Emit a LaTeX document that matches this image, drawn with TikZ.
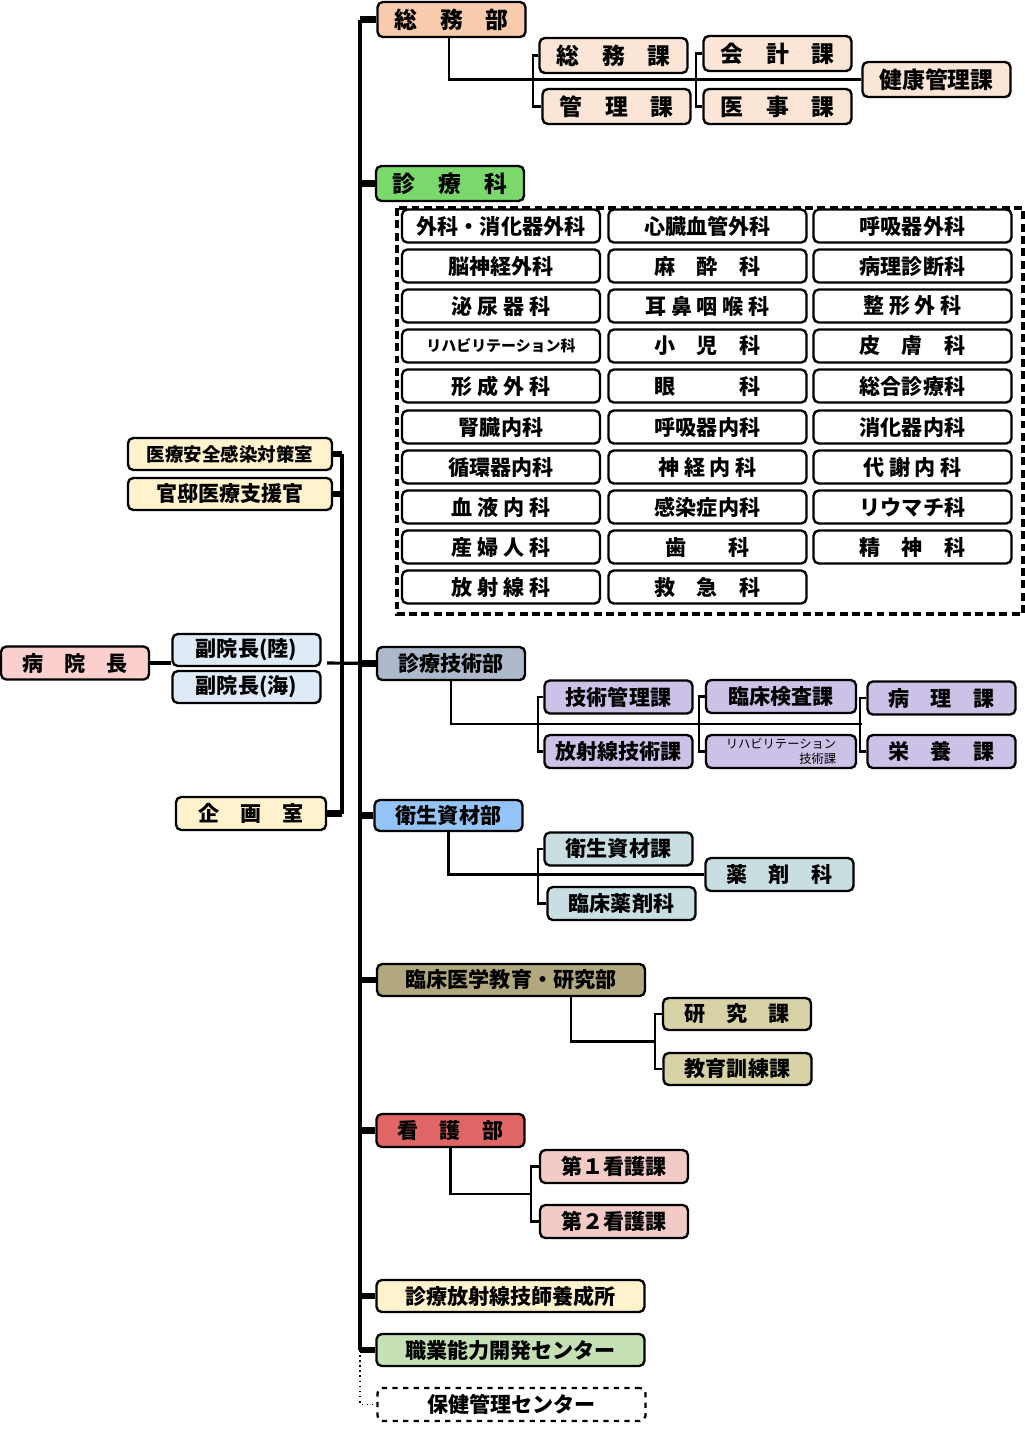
\documentclass[tikz,border=0pt]{standalone}
\usepackage{fontspec}
\setmainfont{Noto Sans CJK JP}
\usetikzlibrary{positioning,calc}

\definecolor{somuDark}{HTML}{F8CBAD}
\definecolor{somuLight}{HTML}{FBE5D6}
\definecolor{shinryoGreen}{HTML}{7AD96A}
\definecolor{headPink}{HTML}{FCCFCF}
\definecolor{fukuBlue}{HTML}{DEEBF7}
\definecolor{paleYellow}{HTML}{FFF2CC}
\definecolor{gijutsuGray}{HTML}{ADB9CA}
\definecolor{lavender}{HTML}{CCC1E6}
\definecolor{eiseiBlue}{HTML}{94C4F5}
\definecolor{paleTeal}{HTML}{C9DEE0}
\definecolor{khakiDark}{HTML}{B1A87F}
\definecolor{khakiLight}{HTML}{D7D2A6}
\definecolor{kangoRed}{HTML}{E06666}
\definecolor{palePink}{HTML}{F2CBC7}
\definecolor{paleGreen}{HTML}{C5E0B4}

\tikzset{
  box/.style={draw, line width=1.35pt, rounded corners=3pt, minimum width=2.96cm,
    minimum height=0.66cm, inner sep=0pt, font=\fontsize{12}{14}\selectfont\bfseries},
  bigbox/.style={box, font=\fontsize{13}{15}\selectfont\bfseries},
  widebox/.style={box, minimum width=5.36cm},
  kabox/.style={box, minimum width=3.96cm, fill=white},
  spine/.style={line width=1.8pt},
  tick/.style={line width=3.5pt},
  link/.style={line width=1.3pt},
}

\begin{document}
\begin{tikzpicture}[x=0.02cm,y=-0.02cm]
    \useasboundingbox (0,0) rectangle (1025,1431);

    % Hospital director and vice directors
    \node[box, fill=headPink] (inchou) at (75,663) {病　院　長};
    \node[box, fill=fukuBlue, minimum height=0.64cm] (fuku1) at (246.5,650) {副院長(陸)};
    \node[box, fill=fukuBlue, minimum height=0.64cm] (fuku2) at (246.5,687) {副院長(海)};

    % Staff offices
    \node[box, fill=paleYellow, minimum width=4.08cm, minimum height=0.64cm,
      font=\fontsize{10.5}{12}\selectfont\bfseries] (anzen) at (230,454) {医療安全感染対策室};
    \node[box, fill=paleYellow, minimum width=4.08cm, minimum height=0.64cm] (kantei) at (230,494) {官邸医療支援官};
    \node[box, fill=paleYellow, minimum width=3cm] (kikaku) at (251,813.5) {企　画　室};

    % General affairs
    \node[bigbox, fill=somuDark, minimum height=0.7cm] (somubu) at (451.5,19.5) {総　務　部};
    \node[bigbox, fill=somuLight, minimum height=0.7cm] (somuka) at (613.5,55.5) {総　務　課};
    \node[bigbox, fill=somuLight, minimum height=0.7cm] (kanri) at (616.5,106.5) {管　理　課};
    \node[bigbox, fill=somuLight, minimum height=0.7cm] (kaikei) at (777.5,53.5) {会　計　課};
    \node[bigbox, fill=somuLight, minimum height=0.7cm] (iji) at (777.5,106.5) {医　事　課};
    \node[bigbox, fill=somuLight, minimum height=0.7cm] (kenko) at (936.5,79.5) {健康管理課};

    % Clinical departments
    \node[bigbox, fill=shinryoGreen, minimum height=0.7cm] (shinryo) at (450,183.5) {診　療　科};
    \draw[line width=1.9pt, dash pattern=on 4.5pt off 2.5pt] (397,208) rectangle (1023,614);

    \node[kabox] (k11) at (501,226) {外科・消化器外科};
    \node[kabox] (k12) at (707.5,226) {心臓血管外科};
    \node[kabox] (k13) at (912.5,226) {呼吸器外科};

    \node[kabox] (k21) at (501,266) {脳神経外科};
    \node[kabox] (k22) at (707.5,266) {麻　酔　科};
    \node[kabox] (k23) at (912.5,266) {病理診断科};

    \node[kabox] (k31) at (501,306) {泌 尿 器 科};
    \node[kabox] (k32) at (707.5,306) {耳 鼻 咽 喉 科};
    \node[kabox] (k33) at (912.5,306) {整 形 外 科};

    \node[kabox, font=\fontsize{8.5}{10}\selectfont\bfseries] (k41) at (501,346) {リハビリテーション科};
    \node[kabox] (k42) at (707.5,346) {小　児　科};
    \node[kabox] (k43) at (912.5,346) {皮　膚　科};

    \node[kabox] (k51) at (501,386) {形 成 外 科};
    \node[kabox] (k52) at (707.5,386) {眼　　　科};
    \node[kabox] (k53) at (912.5,386) {総合診療科};

    \node[kabox] (k61) at (501,427) {腎臓内科};
    \node[kabox] (k62) at (707.5,427) {呼吸器内科};
    \node[kabox] (k63) at (912.5,427) {消化器内科};

    \node[kabox] (k71) at (501,467) {循環器内科};
    \node[kabox] (k72) at (707.5,467) {神 経 内 科};
    \node[kabox] (k73) at (912.5,467) {代 謝 内 科};

    \node[kabox] (k81) at (501,507) {血 液 内 科};
    \node[kabox] (k82) at (707.5,507) {感染症内科};
    \node[kabox] (k83) at (912.5,507) {リウマチ科};

    \node[kabox] (k91) at (501,547) {産 婦 人 科};
    \node[kabox] (k92) at (707.5,547) {歯　　科};
    \node[kabox] (k93) at (912.5,547) {精　神　科};

    \node[kabox] (k101) at (501,587) {放 射 線 科};
    \node[kabox] (k102) at (707.5,587) {救　急　科};

    % Medical technology
    \node[box, fill=gijutsuGray] (gijutsubu) at (451,663.5) {診療技術部};
    \node[box, fill=lavender] (gikan) at (618.5,697) {技術管理課};
    \node[box, fill=lavender] (hoshagi) at (618.5,751.5) {放射線技術課};
    \node[box, fill=lavender, minimum width=3cm] (rinken) at (781,696.5) {臨床検査課};
    \node[box, fill=lavender, minimum width=3cm, align=right,
      font=\fontsize{7}{8.5}\selectfont] (riha) at (781,751.5) {リハビリテーション\\技術課};
    \node[box, fill=lavender] (byori) at (941.5,698) {病　理　課};
    \node[box, fill=lavender] (eiyo) at (941.5,751.5) {栄　養　課};

    % Medical supplies
    \node[box, fill=eiseiBlue, minimum height=0.62cm] (eiseibu) at (448.5,815.5) {衛生資材部};
    \node[box, fill=paleTeal] (eiseika) at (618.5,849) {衛生資材課};
    \node[box, fill=paleTeal] (rinyaku) at (621.5,903.5) {臨床薬剤科};
    \node[box, fill=paleTeal] (yakuzai) at (779.5,874.5) {薬　剤　科};

    % Education and research
    \node[widebox, fill=khakiDark, minimum height=0.64cm] (rinshobu) at (511,980) {臨床医学教育・研究部};
    \node[box, fill=khakiLight, minimum height=0.64cm] (kenkyu) at (737,1014) {研　究　課};
    \node[box, fill=khakiLight, minimum height=0.64cm] (kyoiku) at (737.5,1069) {教育訓練課};

    % Nursing
    \node[box, fill=kangoRed] (kangobu) at (450.5,1130.5) {看　護　部};
    \node[box, fill=palePink] (kango1) at (614,1166.5) {第１看護課};
    \node[box, fill=palePink] (kango2) at (614,1221.5) {第２看護課};

    % Attached facilities
    \node[widebox, fill=paleYellow, minimum height=0.64cm] (yoseisho) at (510.5,1296) {診療放射線技師養成所};
    \node[widebox, fill=paleGreen, minimum height=0.64cm] (shokugyo) at (510.5,1350) {職業能力開発センター};
    \node[widebox, dashed, minimum height=0.66cm] (hoken) at (511.5,1404.5) {保健管理センター};

    % Main spine
    \coordinate (spineTop) at (360,0);
    \draw[spine] (somubu.west -| spineTop) -- (shokugyo.west -| spineTop);
    \foreach \n in {somubu,shinryo,gijutsubu,eiseibu,rinshobu,kangobu,yoseisho,shokugyo}
      \draw[tick] (\n.west -| spineTop) -- (\n.west);
    \draw[line width=0.9pt, dotted] (shokugyo.west -| spineTop) |- (hoken.west);

    % Staff line
    \coordinate (staffLine) at (342,0);
    \draw[spine] (anzen.east -| staffLine) -- (kikaku.east -| staffLine);
    \foreach \n in {anzen,kantei,kikaku}
      \draw[tick] (\n.east) -- (\n.east -| staffLine);
    \coordinate (fukuEnd) at (327,663);
    \draw[spine] (fukuEnd) -- (gijutsubu.west);
    \draw[spine] (inchou.east) -- (inchou.east -| fuku1.west);

    % General affairs links
    \draw[link] (449,0 |- somubu.south) |- (kenko.west);
    \draw[link] (somuka.west) -- ++(-5,0) |- (kanri.west);
    \draw[link] (kaikei.west) -- ++(-6,0) |- (iji.west);

    % Medical technology links
    \coordinate (gijutsuEnd) at (862,724);
    \draw[link] (gijutsubu.south) |- (gijutsuEnd);
    \draw[link] (gikan.west) -- ++(-5,0) |- (hoshagi.west);
    \draw[link] (rinken.west) -- ++(-6,0) |- (riha.west);
    \draw[link] (byori.west) -- ++(-6,0) |- (eiyo.west);

    % Medical supplies links
    \draw[link] (eiseibu.south) |- (yakuzai.west);
    \draw[link] (eiseika.west) -- ++(-5,0) |- (rinyaku.west);

    % Education links
    \draw[link] (kenkyu.west) -- ++(-7,0) coordinate (kenkyuBr) |- (kyoiku.west);
    \draw[link] (571,0 |- rinshobu.south) |- ($(kenkyuBr)!0.5!(kenkyuBr |- kyoiku.west)$);

    % Nursing links
    \draw[link] (kango1.west) -- ++(-8,0) coordinate (kangoBr) |- (kango2.west);
    \draw[link] (kangobu.south) |- ($(kangoBr)!0.5!(kangoBr |- kango2.west)$);
\end{tikzpicture}
\end{document}
